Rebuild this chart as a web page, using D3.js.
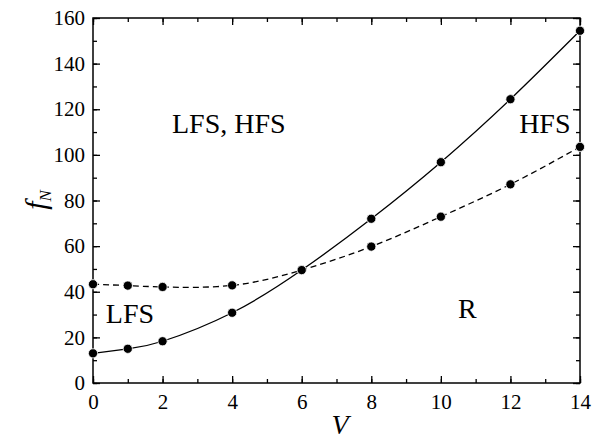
<!DOCTYPE html>
<html><head><meta charset="utf-8">
<script src="https://cdn.jsdelivr.net/npm/d3@7"></script>
<style>body{margin:0;background:#fff}svg{display:block}</style>
</head><body><svg id="c" width="592" height="441"></svg>
<script>
const vValues = [0, 1, 2, 4, 6, 8, 10, 12, 14];
const solidSeries = [13, 15, 18.3, 30.8, 49.5, 72, 96.8, 124.4, 154.4];
const dashedSeries = [43.3, 42.7, 42.1, 42.8, 49.5, 59.8, 72.9, 87.1, 103.5];
const xTicks = [0, 2, 4, 6, 8, 10, 12, 14];
const yTicks = [0, 20, 40, 60, 80, 100, 120, 140, 160];
const regionLabels = [
  {text: "LFS, HFS", v: 2.27, f: 109.6},
  {text: "HFS", v: 12.25, f: 109.6},
  {text: "LFS", v: 0.37, f: 26.3},
  {text: "R", v: 10.49, f: 28.5}
];

const FONT = "Liberation Serif";
const svg = d3.select("#c");
const m = {l: 93, r: 580, t: 18, b: 383};
const x = d3.scaleLinear().domain([0, 14]).range([m.l, m.r]);
const y = d3.scaleLinear().domain([0, 160]).range([m.b, m.t]);

const g = svg.append("g");
const minorX = d3.range(0, 14.01, 1);
const minorY = d3.range(0, 160.01, 10);

function axisStyle(sel, labels) {
  sel.attr("font-family", FONT).attr("font-size", 21);
  sel.select(".domain").remove();
  sel.selectAll(".tick line").attr("stroke", "#000").attr("stroke-width", 1.3);
  sel.selectAll("text").attr("fill", "#000").attr("font-family", FONT).attr("font-size", 21);
  if (!labels) sel.selectAll("text").remove();
}
// minor ticks
g.append("g").attr("transform", `translate(0,${m.b})`).call(d3.axisBottom(x).tickValues(minorX).tickSize(-4).tickFormat("")).call(s => axisStyle(s, false));
g.append("g").attr("transform", `translate(0,${m.t})`).call(d3.axisTop(x).tickValues(minorX).tickSize(-4).tickFormat("")).call(s => axisStyle(s, false));
g.append("g").attr("transform", `translate(${m.l},0)`).call(d3.axisLeft(y).tickValues(minorY).tickSize(-4).tickFormat("")).call(s => axisStyle(s, false));
g.append("g").attr("transform", `translate(${m.r},0)`).call(d3.axisRight(y).tickValues(minorY).tickSize(-4).tickFormat("")).call(s => axisStyle(s, false));
// major ticks
g.append("g").attr("transform", `translate(0,${m.b})`).call(d3.axisBottom(x).tickValues(xTicks).tickSize(-7).tickPadding(11).tickFormat(d3.format("d"))).call(s => axisStyle(s, true));
g.append("g").attr("transform", `translate(0,${m.t})`).call(d3.axisTop(x).tickValues(xTicks).tickSize(-7).tickFormat("")).call(s => axisStyle(s, false));
g.append("g").attr("transform", `translate(${m.l},0)`).call(d3.axisLeft(y).tickValues(yTicks).tickSize(-7).tickPadding(8).tickFormat(d3.format("d"))).call(s => axisStyle(s, true));
g.append("g").attr("transform", `translate(${m.r},0)`).call(d3.axisRight(y).tickValues(yTicks).tickSize(-7).tickFormat("")).call(s => axisStyle(s, false));

g.append("rect").attr("x", m.l).attr("y", m.t).attr("width", m.r - m.l).attr("height", m.b - m.t)
  .attr("fill", "none").attr("stroke", "#000").attr("stroke-width", 1.5);

const line = d3.line().curve(d3.curveNatural).x(d => x(d[0])).y(d => y(d[1]));
const solidPts = vValues.map((v, i) => [v, solidSeries[i]]);
const dashedPts = vValues.map((v, i) => [v, dashedSeries[i]]);

g.append("path").attr("d", line(solidPts)).attr("fill", "none").attr("stroke", "#000").attr("stroke-width", 1.3);
g.append("path").attr("d", line(dashedPts)).attr("fill", "none").attr("stroke", "#000").attr("stroke-width", 1.3).attr("stroke-dasharray", "6,4");

[solidPts, dashedPts].forEach(pts => {
  g.selectAll(null).data(pts).enter().append("circle")
    .attr("cx", d => x(d[0])).attr("cy", d => y(d[1])).attr("r", 4.6)
    .attr("fill", "#000").attr("stroke", "#fff").attr("stroke-width", 0.8);
});

regionLabels.forEach(r => {
  g.append("text").attr("x", x(r.v)).attr("y", y(r.f))
    .attr("font-family", FONT).attr("font-size", 28).attr("fill", "#000").text(r.text);
});

// axis titles
svg.append("text").attr("x", 340).attr("y", 434).attr("text-anchor", "middle")
  .attr("font-family", FONT).attr("font-size", 28).attr("font-style", "italic").attr("fill", "#000").text("V");
const yt = svg.append("text").attr("transform", "translate(46,200) rotate(-90)").attr("text-anchor", "middle")
  .attr("font-family", FONT).attr("font-size", 30).attr("font-style", "italic").attr("fill", "#000");
yt.append("tspan").text("f");
yt.append("tspan").attr("dy", 5).attr("font-size", 17).text("N");
</script></body></html>
